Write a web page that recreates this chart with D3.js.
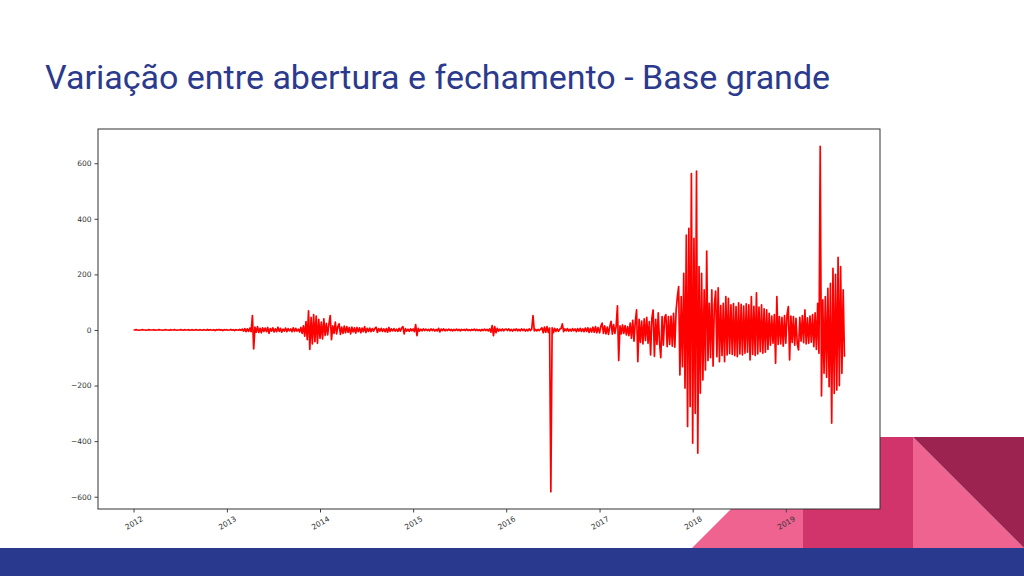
<!DOCTYPE html>
<html>
<head>
<meta charset="utf-8">
<script src="https://cdn.jsdelivr.net/npm/d3@7"></script>
<style>
  html, body { margin: 0; padding: 0; background: #ffffff; }
  svg { display: block; }
</style>
</head>
<body>
<svg id="chart" width="1024" height="576"></svg>
<script>
// ---------------- DATA ----------------
const titleText = "Variação entre abertura e fechamento - Base grande";
const years = [2012, 2013, 2014, 2015, 2016, 2017, 2018, 2019];
const stepDays = 5; // samples every 5 days, starting Jan 1 of each year

const v2012 = [0,0,1,0,-1,0,0,1,0,0, -1,0,1,0,0,0,1,-1,0,0, 1,0,0,-1,0,1,0,0,-1,1,
  0,0,1,0,-1,0,0,1,0,-1, 1,0,0,1,-1,0,1,-1,0,1, 0,-1,1,0,-1,1,0,-1,2,-1,
  1,0,-1,1,-2,1,0,2,-1,1, -2,1,0];
const v2013 = [1,-1,0,2,-1,1,-2,1,0,-1, 2,-1,3,-4,5,-6,4,-5,7,-6,
  52,-68,10,-8,12,-9,6,-10,8,-5, 7,-6,9,-12,5,-4,8,-7,4,-6,
  10,-5,6,-8,3,-4,7,-6,5,-3, 4,-6,8,-5,6,-4,3,-7,9,-12,
  15,-22,30,-35,69,-70,45,-50,55,-42, 50,-48,38];
const v2014 = [-30,28,-32,40,-20,24,-18,22,52,-35, 15,-12,28,-14,12,22,-16,10,-12,14,
  -10,12,-8,9,-14,10,-7,8,-11,9, -6,8,-10,7,-6,12,-9,6,-5,7,
  -6,5,-4,6,10,-9,5,-4,6,-5, 4,-6,5,-8,9,-5,4,-3,5,-4,
  3,-5,6,-4,7,12,-14,5,-4,3, -5,4,-3];
const v2015 = [4,-6,19,-20,6,-4,3,-3,4,-2, 3,-2,2,-3,4,-2,3,-4,2,-3,
  6,-7,3,-2,4,-3,2,-2,3,-2, 2,-3,2,-2,3,-2,2,-3,2,-1,
  2,-2,3,-2,1,-2,2,-1,3,-2, 2,-2,1,-3,2,-2,3,-2,2,-3,
  4,-8,16,-20,12,-10,6,-4,3,-3, 4,-3,2];
const v2016 = [3,-2,4,-3,2,-4,3,-2,4,-3, 2,-3,4,-2,3,-4,2,-3,4,-2,
  3,52,-3,2,-3,2,-2,3,8,-10, 10,-8,12,-9,7,-582,8,-10,6,-5,
  4,-5,3,5,22,-6,4,-3,5,-4, 3,-4,5,-3,4,-6,5,-4,6,-5,
  4,-6,7,-5,8,-9,6,-7,10,-8, 12,-10,9];
const v2017 = [-10,14,25,-12,15,-14,10,-16,12,31, -15,19,-12,14,87,-110,15,-14,18,-12,
  16,-18,12,-20,25,-30,35,-40,30,72, -114,38,-45,32,-50,40,-38,45,-48,30,
  -90,42,72,-95,38,-52,62,-45,-100,48, -55,45,55,-60,48,-52,50,-58,60,-62,
  70,120,156,-162,120,-132,204,-209,341,-347, 366,-275,563];
const v2018 = [-407,330,-300,572,-443,228,-227,204,-180,144, -144,284,-110,96,-100,144,-130,90,140,-96,
  152,-114,88,-92,96,-114,120,-90,114,-85, 90,-88,95,-92,84,-96,98,-86,92,-90,
  86,-84,94,-80,90,-108,120,-88,85,-92, 134,-86,82,-78,90,-84,76,-80,72,-70,
  60,-55,50,-48,55,-120,120,-52,48,-50, 45,-58,52];
const v2019 = [-48,55,84,-108,50,-45,48,-55,42,-50, -72,45,-40,52,-46,72,-50,44,-48,50,
  -44,55,-60,62,-70,96,-84,661,-237,108, -156,120,-170,150,-204,168,-335,222,-228,200,
  -216,261,-200,228,-156,144,-96];
const yearValues = [v2012, v2013, v2014, v2015, v2016, v2017, v2018, v2019];

const yTickValues = [-600, -400, -200, 0, 200, 400, 600];
const xTickLabels = ["2012", "2013", "2014", "2015", "2016", "2017", "2018", "2019"];

// -------------- BUILD SERIES --------------
const series = [];
years.forEach((yr, k) => {
  yearValues[k].forEach((v, i) => {
    series.push({ date: new Date(yr, 0, 1 + stepDays * i), value: v });
  });
});

// -------------- DRAW --------------
const svg = d3.select("#chart");

// decorative slide shapes
const deco = svg.append("g");
deco.append("polygon").attr("points", "692,548 803,437 803,548").attr("fill", "#EF6391");
deco.append("rect").attr("x", 803).attr("y", 437).attr("width", 110).attr("height", 111).attr("fill", "#D1346B");
deco.append("polygon").attr("points", "913,437 913,548 1024,548").attr("fill", "#EF6391");
deco.append("polygon").attr("points", "913,437 1024,437 1024,548").attr("fill", "#9C234F");
deco.append("rect").attr("x", 0).attr("y", 548).attr("width", 1024).attr("height", 28).attr("fill", "#293A8E");

// title
svg.append("text")
  .attr("x", 45).attr("y", 89)
  .attr("font-family", "Roboto, sans-serif")
  .attr("font-size", 34)
  .attr("fill", "#2B3A8C")
  .text(titleText);

// plot area
const L = 98, R = 880, T = 129, B = 509;
const ext = d3.extent(series, d => d.date);
const span = ext[1] - ext[0];
const x = d3.scaleTime()
  .domain([new Date(+ext[0] - 0.05 * span), new Date(+ext[1] + 0.05 * span)])
  .range([L, R]);
const yExt = d3.extent(series, d => d.value);
const ySpan = yExt[1] - yExt[0];
const y = d3.scaleLinear()
  .domain([yExt[0] - 0.05 * ySpan, yExt[1] + 0.05 * ySpan])
  .range([B, T]);

svg.append("rect").attr("x", L).attr("y", T).attr("width", R - L).attr("height", B - T).attr("fill", "#ffffff");

svg.append("clipPath").attr("id", "clip")
  .append("rect").attr("x", L).attr("y", T).attr("width", R - L).attr("height", B - T);

const line = d3.line().x(d => x(d.date)).y(d => y(d.value));
svg.append("path")
  .datum(series)
  .attr("clip-path", "url(#clip)")
  .attr("fill", "none")
  .attr("stroke", "#ff0000")
  .attr("stroke-width", 1.7)
  .attr("stroke-linejoin", "round")
  .attr("d", line);

// axes
const tickFont = "'DejaVu Sans', sans-serif";
const yAxis = d3.axisLeft(y).tickValues(yTickValues).tickSize(3.5).tickPadding(3)
  .tickFormat(d => d < 0 ? "\u2212" + Math.abs(d) : String(d));
const gy = svg.append("g").attr("transform", `translate(${L},0)`).call(yAxis);
gy.select(".domain").remove();
gy.selectAll("line").attr("stroke", "#444");
gy.selectAll("text").attr("font-family", tickFont).attr("font-size", 7.5).attr("fill", "#333");

const xTickDates = xTickLabels.map(s => new Date(+s, 0, 1));
const xAxis = d3.axisBottom(x).tickValues(xTickDates).tickSize(3.5).tickFormat((d, i) => xTickLabels[i]);
const gx = svg.append("g").attr("transform", `translate(0,${B})`).call(xAxis);
gx.select(".domain").remove();
gx.selectAll("line").attr("stroke", "#444");
gx.selectAll("text")
  .attr("font-family", tickFont).attr("font-size", 7.5).attr("fill", "#333")
  .attr("y", 0).attr("dy", null)
  .attr("text-anchor", "middle")
  .attr("dominant-baseline", "central")
  .attr("transform", "translate(0,14) rotate(-30)");

// frame
svg.append("rect").attr("x", L).attr("y", T).attr("width", R - L).attr("height", B - T)
  .attr("fill", "none").attr("stroke", "#333").attr("stroke-width", 1);
</script>
</body>
</html>
